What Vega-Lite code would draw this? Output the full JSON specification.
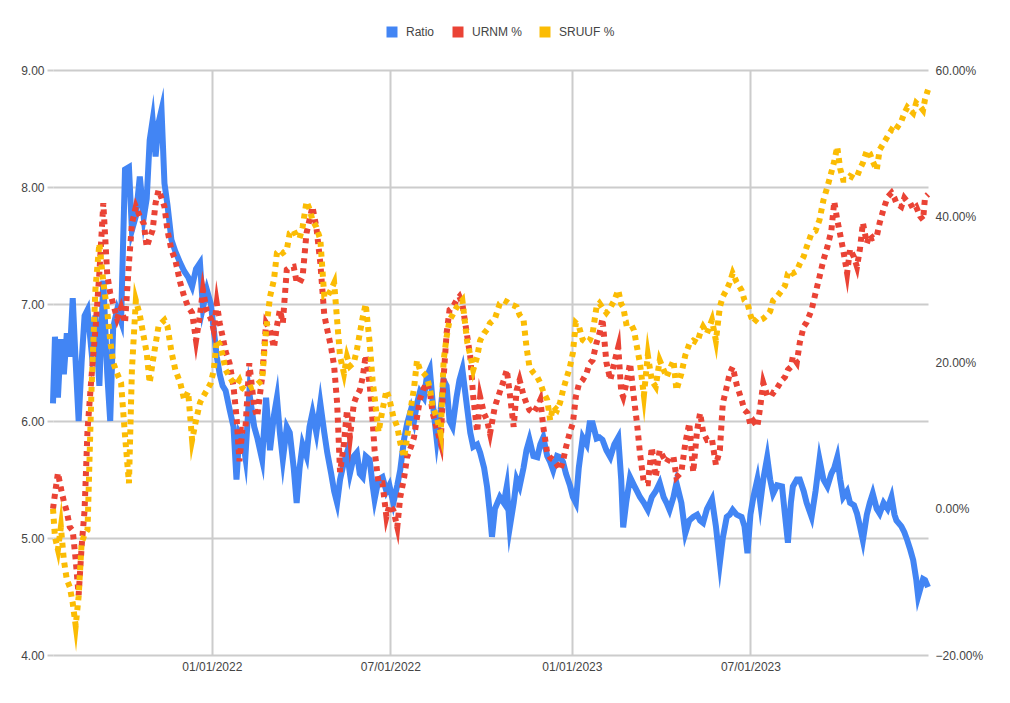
{
  "$schema": "https://vega.github.io/schema/vega-lite/v6.json",
  "width": 875,
  "height": 585,
  "autosize": {"type": "none"},
  "padding": {"left": 53, "top": 70, "right": 82, "bottom": 48},
  "background": "#ffffff",
  "config": {
    "font": "Liberation Sans",
    "view": {"stroke": null},
    "axis": {"labelFont": "Liberation Sans", "labelFontSize": 12, "labelColor": "#444444", "domain": false, "title": null},
    "legend": {"labelFont": "Liberation Sans", "labelFontSize": 12, "labelColor": "#444444"}
  },
  "datasets": {
    "ratio": [
      {"d":"2021-07-24","v":6.15},{"d":"2021-07-26","v":6.72},{"d":"2021-07-29","v":6.2},{"d":"2021-08-01","v":6.7},{"d":"2021-08-04","v":6.4},{"d":"2021-08-07","v":6.75},{"d":"2021-08-10","v":6.55},{"d":"2021-08-13","v":7.05},{"d":"2021-08-16","v":6.5},{"d":"2021-08-19","v":6.0},{"d":"2021-08-22","v":6.5},{"d":"2021-08-25","v":6.9},{"d":"2021-08-28","v":6.95},{"d":"2021-09-01","v":6.6},{"d":"2021-09-05","v":6.9},{"d":"2021-09-09","v":6.3},{"d":"2021-09-13","v":7.2},{"d":"2021-09-17","v":6.4},{"d":"2021-09-20","v":6.0},{"d":"2021-09-23","v":6.8},{"d":"2021-09-27","v":6.95},{"d":"2021-10-01","v":6.85},{"d":"2021-10-05","v":8.15},{"d":"2021-10-09","v":8.17},{"d":"2021-10-12","v":7.63},{"d":"2021-10-16","v":7.75},{"d":"2021-10-20","v":8.09},{"d":"2021-10-24","v":7.74},{"d":"2021-10-27","v":7.9},{"d":"2021-10-30","v":8.4},{"d":"2021-11-02","v":8.57},{"d":"2021-11-05","v":8.26},{"d":"2021-11-08","v":8.55},{"d":"2021-11-11","v":8.66},{"d":"2021-11-14","v":8.03},{"d":"2021-11-17","v":7.85},{"d":"2021-11-21","v":7.55},{"d":"2021-11-25","v":7.45},{"d":"2021-11-30","v":7.35},{"d":"2021-12-04","v":7.28},{"d":"2021-12-08","v":7.23},{"d":"2021-12-12","v":7.15},{"d":"2021-12-16","v":7.3},{"d":"2021-12-20","v":7.35},{"d":"2021-12-23","v":6.97},{"d":"2021-12-27","v":7.12},{"d":"2021-12-31","v":7.0},
      {"d":"2022-01-03","v":6.78},{"d":"2022-01-06","v":6.55},{"d":"2022-01-09","v":6.4},{"d":"2022-01-12","v":6.3},{"d":"2022-01-15","v":6.26},{"d":"2022-01-19","v":6.1},{"d":"2022-01-23","v":5.95},{"d":"2022-01-26","v":5.5},{"d":"2022-01-29","v":5.9},{"d":"2022-02-01","v":5.86},{"d":"2022-02-04","v":5.69},{"d":"2022-02-08","v":6.24},{"d":"2022-02-13","v":5.95},{"d":"2022-02-16","v":5.86},{"d":"2022-02-21","v":5.67},{"d":"2022-02-25","v":6.2},{"d":"2022-03-01","v":5.75},{"d":"2022-03-05","v":6.05},{"d":"2022-03-08","v":6.2},{"d":"2022-03-11","v":5.9},{"d":"2022-03-14","v":5.67},{"d":"2022-03-18","v":5.95},{"d":"2022-03-21","v":5.9},{"d":"2022-03-25","v":5.6},{"d":"2022-03-28","v":5.3},{"d":"2022-03-31","v":5.6},{"d":"2022-04-03","v":5.8},{"d":"2022-04-07","v":5.7},{"d":"2022-04-10","v":5.95},{"d":"2022-04-13","v":6.07},{"d":"2022-04-17","v":5.9},{"d":"2022-04-21","v":6.15},{"d":"2022-04-25","v":5.9},{"d":"2022-04-28","v":5.73},{"d":"2022-05-02","v":5.55},{"d":"2022-05-05","v":5.4},{"d":"2022-05-08","v":5.3},{"d":"2022-05-11","v":5.5},{"d":"2022-05-15","v":5.65},{"d":"2022-05-18","v":5.73},{"d":"2022-05-21","v":5.55},{"d":"2022-05-25","v":5.7},{"d":"2022-05-28","v":5.73},{"d":"2022-05-31","v":5.55},{"d":"2022-06-03","v":5.52},{"d":"2022-06-06","v":5.7},{"d":"2022-06-10","v":5.67},{"d":"2022-06-13","v":5.45},{"d":"2022-06-15","v":5.33},{"d":"2022-06-19","v":5.5},{"d":"2022-06-23","v":5.52},{"d":"2022-06-27","v":5.4},{"d":"2022-06-30","v":5.45},{"d":"2022-07-04","v":5.3},{"d":"2022-07-08","v":5.45},{"d":"2022-07-11","v":5.58},{"d":"2022-07-15","v":5.85},{"d":"2022-07-18","v":5.98},{"d":"2022-07-22","v":6.1},{"d":"2022-07-25","v":6.0},{"d":"2022-07-28","v":6.15},{"d":"2022-07-31","v":6.25},{"d":"2022-08-04","v":6.2},{"d":"2022-08-07","v":6.38},{"d":"2022-08-10","v":6.44},{"d":"2022-08-13","v":6.15},{"d":"2022-08-17","v":5.84},{"d":"2022-08-21","v":6.1},{"d":"2022-08-24","v":6.35},{"d":"2022-08-27","v":6.3},{"d":"2022-08-30","v":6.0},{"d":"2022-09-02","v":5.95},{"d":"2022-09-06","v":6.2},{"d":"2022-09-09","v":6.35},{"d":"2022-09-12","v":6.44},{"d":"2022-09-17","v":6.1},{"d":"2022-09-20","v":5.9},{"d":"2022-09-23","v":5.78},{"d":"2022-09-27","v":5.8},{"d":"2022-09-30","v":5.73},{"d":"2022-10-04","v":5.6},{"d":"2022-10-07","v":5.44},{"d":"2022-10-10","v":5.2},{"d":"2022-10-12","v":5.01},{"d":"2022-10-15","v":5.25},{"d":"2022-10-20","v":5.35},{"d":"2022-10-24","v":5.3},{"d":"2022-10-27","v":5.44},{"d":"2022-10-30","v":5.09},{"d":"2022-11-03","v":5.3},{"d":"2022-11-06","v":5.5},{"d":"2022-11-09","v":5.44},{"d":"2022-11-13","v":5.6},{"d":"2022-11-16","v":5.75},{"d":"2022-11-19","v":5.84},{"d":"2022-11-23","v":5.7},{"d":"2022-11-27","v":5.69},{"d":"2022-11-30","v":5.8},{"d":"2022-12-03","v":5.86},{"d":"2022-12-07","v":5.7},{"d":"2022-12-10","v":5.65},{"d":"2022-12-13","v":5.58},{"d":"2022-12-17","v":5.7},{"d":"2022-12-20","v":5.69},{"d":"2022-12-23","v":5.65},{"d":"2022-12-26","v":5.55},{"d":"2022-12-30","v":5.45},
      {"d":"2023-01-02","v":5.35},{"d":"2023-01-05","v":5.3},{"d":"2023-01-08","v":5.6},{"d":"2023-01-12","v":5.86},{"d":"2023-01-16","v":5.8},{"d":"2023-01-19","v":5.98},{"d":"2023-01-22","v":5.98},{"d":"2023-01-26","v":5.85},{"d":"2023-01-29","v":5.86},{"d":"2023-02-01","v":5.84},{"d":"2023-02-05","v":5.75},{"d":"2023-02-09","v":5.69},{"d":"2023-02-13","v":5.8},{"d":"2023-02-17","v":5.86},{"d":"2023-02-20","v":5.5},{"d":"2023-02-22","v":5.09},{"d":"2023-02-25","v":5.3},{"d":"2023-03-01","v":5.52},{"d":"2023-03-05","v":5.45},{"d":"2023-03-08","v":5.4},{"d":"2023-03-11","v":5.35},{"d":"2023-03-15","v":5.3},{"d":"2023-03-19","v":5.24},{"d":"2023-03-23","v":5.35},{"d":"2023-03-27","v":5.4},{"d":"2023-03-31","v":5.47},{"d":"2023-04-04","v":5.35},{"d":"2023-04-07","v":5.3},{"d":"2023-04-10","v":5.24},{"d":"2023-04-14","v":5.35},{"d":"2023-04-17","v":5.47},{"d":"2023-04-22","v":5.3},{"d":"2023-04-26","v":5.04},{"d":"2023-04-30","v":5.15},{"d":"2023-05-04","v":5.18},{"d":"2023-05-08","v":5.2},{"d":"2023-05-11","v":5.15},{"d":"2023-05-14","v":5.13},{"d":"2023-05-18","v":5.25},{"d":"2023-05-23","v":5.33},{"d":"2023-05-27","v":5.1},{"d":"2023-05-31","v":4.79},{"d":"2023-06-03","v":5.0},{"d":"2023-06-07","v":5.18},{"d":"2023-06-10","v":5.2},{"d":"2023-06-13","v":5.24},{"d":"2023-06-17","v":5.2},{"d":"2023-06-22","v":5.18},{"d":"2023-06-25","v":5.1},{"d":"2023-06-28","v":4.87},{"d":"2023-07-01","v":5.2},{"d":"2023-07-04","v":5.35},{"d":"2023-07-08","v":5.5},{"d":"2023-07-11","v":5.3},{"d":"2023-07-14","v":5.5},{"d":"2023-07-18","v":5.69},{"d":"2023-07-21","v":5.5},{"d":"2023-07-24","v":5.38},{"d":"2023-07-28","v":5.45},{"d":"2023-08-02","v":5.44},{"d":"2023-08-05","v":5.2},{"d":"2023-08-08","v":4.96},{"d":"2023-08-11","v":5.3},{"d":"2023-08-13","v":5.44},{"d":"2023-08-17","v":5.5},{"d":"2023-08-20","v":5.5},{"d":"2023-08-24","v":5.4},{"d":"2023-08-27","v":5.3},{"d":"2023-09-01","v":5.18},{"d":"2023-09-05","v":5.4},{"d":"2023-09-09","v":5.67},{"d":"2023-09-13","v":5.5},{"d":"2023-09-17","v":5.44},{"d":"2023-09-21","v":5.55},{"d":"2023-09-24","v":5.6},{"d":"2023-09-27","v":5.69},{"d":"2023-09-30","v":5.5},{"d":"2023-10-03","v":5.35},{"d":"2023-10-07","v":5.4},{"d":"2023-10-10","v":5.3},{"d":"2023-10-14","v":5.28},{"d":"2023-10-17","v":5.21},{"d":"2023-10-20","v":5.1},{"d":"2023-10-23","v":4.98},{"d":"2023-10-27","v":5.2},{"d":"2023-10-30","v":5.3},{"d":"2023-11-02","v":5.38},{"d":"2023-11-06","v":5.25},{"d":"2023-11-09","v":5.21},{"d":"2023-11-13","v":5.3},{"d":"2023-11-17","v":5.25},{"d":"2023-11-21","v":5.35},{"d":"2023-11-24","v":5.2},{"d":"2023-11-26","v":5.15},{"d":"2023-12-01","v":5.1},{"d":"2023-12-04","v":5.05},{"d":"2023-12-07","v":4.98},{"d":"2023-12-10","v":4.9},{"d":"2023-12-13","v":4.81},{"d":"2023-12-16","v":4.65},{"d":"2023-12-18","v":4.5},{"d":"2023-12-20","v":4.56},{"d":"2023-12-23","v":4.65},{"d":"2023-12-25","v":4.64},{"d":"2023-12-28","v":4.58}
    ],
    "urnm": [
      {"d":"2021-07-24","v":0.0},{"d":"2021-07-26","v":2.0},{"d":"2021-07-29","v":4.9},{"d":"2021-08-01","v":2.8},{"d":"2021-08-04","v":1.0},{"d":"2021-08-07","v":-0.4},{"d":"2021-08-10","v":-2.5},{"d":"2021-08-13","v":-3.0},{"d":"2021-08-16","v":-7.0},{"d":"2021-08-19","v":-11.8},{"d":"2021-08-22","v":-5.2},{"d":"2021-08-25","v":-0.2},{"d":"2021-08-28","v":10.8},{"d":"2021-09-01","v":18.0},{"d":"2021-09-05","v":24.5},{"d":"2021-09-09","v":32.2},{"d":"2021-09-13","v":41.8},{"d":"2021-09-17","v":32.0},{"d":"2021-09-20","v":29.5},{"d":"2021-09-23","v":28.0},{"d":"2021-09-27","v":26.0},{"d":"2021-10-01","v":27.5},{"d":"2021-10-05","v":25.4},{"d":"2021-10-09","v":33.6},{"d":"2021-10-12","v":39.0},{"d":"2021-10-16","v":41.3},{"d":"2021-10-20","v":40.0},{"d":"2021-10-24","v":39.0},{"d":"2021-10-27","v":35.8},{"d":"2021-10-30","v":37.0},{"d":"2021-11-02","v":38.1},{"d":"2021-11-05","v":41.8},{"d":"2021-11-08","v":43.6},{"d":"2021-11-11","v":42.5},{"d":"2021-11-14","v":41.3},{"d":"2021-11-17","v":38.1},{"d":"2021-11-21","v":35.4},{"d":"2021-11-25","v":34.0},{"d":"2021-11-30","v":30.9},{"d":"2021-12-04","v":29.0},{"d":"2021-12-08","v":27.6},{"d":"2021-12-12","v":26.8},{"d":"2021-12-16","v":23.0},{"d":"2021-12-20","v":26.5},{"d":"2021-12-23","v":29.9},{"d":"2021-12-27","v":27.0},{"d":"2021-12-31","v":26.0},
      {"d":"2022-01-03","v":24.4},{"d":"2022-01-06","v":28.1},{"d":"2022-01-09","v":25.4},{"d":"2022-01-12","v":23.5},{"d":"2022-01-15","v":21.5},{"d":"2022-01-19","v":19.9},{"d":"2022-01-23","v":16.7},{"d":"2022-01-26","v":12.6},{"d":"2022-01-29","v":6.5},{"d":"2022-02-01","v":10.8},{"d":"2022-02-04","v":10.8},{"d":"2022-02-08","v":19.9},{"d":"2022-02-13","v":13.9},{"d":"2022-02-16","v":12.6},{"d":"2022-02-21","v":18.0},{"d":"2022-02-25","v":25.4},{"d":"2022-03-01","v":24.5},{"d":"2022-03-05","v":22.0},{"d":"2022-03-08","v":25.0},{"d":"2022-03-11","v":27.2},{"d":"2022-03-14","v":25.4},{"d":"2022-03-18","v":32.7},{"d":"2022-03-21","v":33.0},{"d":"2022-03-25","v":33.1},{"d":"2022-03-28","v":31.0},{"d":"2022-03-31","v":30.9},{"d":"2022-04-03","v":31.7},{"d":"2022-04-07","v":37.7},{"d":"2022-04-10","v":39.5},{"d":"2022-04-13","v":41.3},{"d":"2022-04-17","v":38.5},{"d":"2022-04-21","v":33.6},{"d":"2022-04-25","v":26.5},{"d":"2022-04-28","v":24.5},{"d":"2022-05-02","v":22.0},{"d":"2022-05-05","v":19.5},{"d":"2022-05-08","v":14.5},{"d":"2022-05-11","v":5.0},{"d":"2022-05-15","v":9.0},{"d":"2022-05-18","v":13.5},{"d":"2022-05-21","v":9.8},{"d":"2022-05-25","v":14.4},{"d":"2022-05-28","v":15.5},{"d":"2022-05-31","v":16.2},{"d":"2022-06-03","v":18.0},{"d":"2022-06-06","v":21.0},{"d":"2022-06-10","v":17.0},{"d":"2022-06-13","v":12.0},{"d":"2022-06-15","v":8.0},{"d":"2022-06-19","v":3.5},{"d":"2022-06-23","v":3.5},{"d":"2022-06-27","v":-1.1},{"d":"2022-06-30","v":0.5},{"d":"2022-07-04","v":-0.2},{"d":"2022-07-08","v":-2.5},{"d":"2022-07-11","v":1.6},{"d":"2022-07-15","v":4.3},{"d":"2022-07-18","v":7.1},{"d":"2022-07-22","v":8.5},{"d":"2022-07-25","v":9.8},{"d":"2022-07-28","v":12.5},{"d":"2022-07-31","v":15.0},{"d":"2022-08-04","v":16.5},{"d":"2022-08-07","v":17.2},{"d":"2022-08-10","v":16.0},{"d":"2022-08-13","v":13.0},{"d":"2022-08-17","v":11.0},{"d":"2022-08-21","v":9.0},{"d":"2022-08-24","v":18.0},{"d":"2022-08-27","v":24.0},{"d":"2022-08-30","v":27.2},{"d":"2022-09-02","v":27.5},{"d":"2022-09-06","v":28.5},{"d":"2022-09-09","v":29.0},{"d":"2022-09-12","v":28.0},{"d":"2022-09-17","v":23.5},{"d":"2022-09-20","v":20.8},{"d":"2022-09-23","v":15.3},{"d":"2022-09-27","v":10.5},{"d":"2022-09-30","v":15.3},{"d":"2022-10-04","v":13.0},{"d":"2022-10-07","v":12.1},{"d":"2022-10-10","v":10.3},{"d":"2022-10-15","v":14.0},{"d":"2022-10-20","v":16.0},{"d":"2022-10-24","v":17.6},{"d":"2022-10-27","v":19.0},{"d":"2022-10-30","v":15.8},{"d":"2022-11-03","v":11.2},{"d":"2022-11-06","v":16.2},{"d":"2022-11-09","v":17.6},{"d":"2022-11-13","v":15.5},{"d":"2022-11-16","v":14.4},{"d":"2022-11-19","v":13.5},{"d":"2022-11-23","v":13.1},{"d":"2022-11-27","v":14.0},{"d":"2022-11-30","v":14.9},{"d":"2022-12-03","v":11.2},{"d":"2022-12-07","v":7.6},{"d":"2022-12-10","v":7.0},{"d":"2022-12-13","v":6.7},{"d":"2022-12-17","v":6.0},{"d":"2022-12-20","v":5.3},{"d":"2022-12-23","v":6.5},{"d":"2022-12-26","v":8.4},{"d":"2022-12-30","v":10.5},
      {"d":"2023-01-02","v":11.7},{"d":"2023-01-05","v":15.3},{"d":"2023-01-08","v":17.0},{"d":"2023-01-12","v":17.6},{"d":"2023-01-16","v":18.6},{"d":"2023-01-19","v":19.9},{"d":"2023-01-22","v":20.3},{"d":"2023-01-26","v":22.7},{"d":"2023-01-29","v":24.0},{"d":"2023-02-01","v":26.0},{"d":"2023-02-05","v":20.0},{"d":"2023-02-09","v":17.6},{"d":"2023-02-13","v":20.0},{"d":"2023-02-17","v":22.1},{"d":"2023-02-20","v":16.0},{"d":"2023-02-22","v":15.3},{"d":"2023-02-25","v":17.0},{"d":"2023-03-01","v":19.9},{"d":"2023-03-05","v":15.0},{"d":"2023-03-08","v":11.7},{"d":"2023-03-11","v":7.6},{"d":"2023-03-15","v":3.5},{"d":"2023-03-19","v":3.5},{"d":"2023-03-23","v":8.4},{"d":"2023-03-27","v":4.3},{"d":"2023-03-31","v":8.0},{"d":"2023-04-04","v":7.0},{"d":"2023-04-07","v":6.3},{"d":"2023-04-10","v":7.0},{"d":"2023-04-14","v":7.1},{"d":"2023-04-17","v":4.3},{"d":"2023-04-22","v":5.0},{"d":"2023-04-26","v":9.0},{"d":"2023-04-30","v":11.7},{"d":"2023-05-04","v":5.0},{"d":"2023-05-08","v":10.8},{"d":"2023-05-11","v":13.1},{"d":"2023-05-14","v":10.5},{"d":"2023-05-18","v":9.4},{"d":"2023-05-23","v":9.5},{"d":"2023-05-27","v":6.0},{"d":"2023-05-31","v":8.0},{"d":"2023-06-03","v":14.4},{"d":"2023-06-07","v":16.7},{"d":"2023-06-10","v":18.5},{"d":"2023-06-13","v":19.4},{"d":"2023-06-17","v":17.0},{"d":"2023-06-22","v":14.9},{"d":"2023-06-25","v":13.5},{"d":"2023-06-28","v":13.1},{"d":"2023-07-01","v":11.5},{"d":"2023-07-04","v":12.0},{"d":"2023-07-08","v":11.2},{"d":"2023-07-11","v":14.0},{"d":"2023-07-14","v":17.2},{"d":"2023-07-18","v":15.5},{"d":"2023-07-21","v":16.0},{"d":"2023-07-24","v":15.8},{"d":"2023-07-28","v":16.5},{"d":"2023-08-02","v":17.6},{"d":"2023-08-05","v":18.0},{"d":"2023-08-08","v":19.0},{"d":"2023-08-11","v":19.4},{"d":"2023-08-13","v":20.8},{"d":"2023-08-17","v":20.0},{"d":"2023-08-20","v":22.7},{"d":"2023-08-24","v":24.9},{"d":"2023-08-27","v":25.5},{"d":"2023-09-01","v":27.2},{"d":"2023-09-05","v":29.5},{"d":"2023-09-09","v":31.7},{"d":"2023-09-13","v":34.0},{"d":"2023-09-17","v":35.8},{"d":"2023-09-21","v":38.0},{"d":"2023-09-24","v":42.0},{"d":"2023-09-27","v":39.5},{"d":"2023-09-30","v":37.5},{"d":"2023-10-03","v":35.4},{"d":"2023-10-07","v":32.2},{"d":"2023-10-10","v":35.5},{"d":"2023-10-14","v":34.4},{"d":"2023-10-17","v":33.1},{"d":"2023-10-20","v":35.5},{"d":"2023-10-23","v":39.1},{"d":"2023-10-27","v":36.3},{"d":"2023-10-30","v":37.5},{"d":"2023-11-02","v":37.0},{"d":"2023-11-06","v":37.2},{"d":"2023-11-09","v":39.1},{"d":"2023-11-13","v":41.0},{"d":"2023-11-17","v":42.6},{"d":"2023-11-21","v":43.2},{"d":"2023-11-24","v":42.5},{"d":"2023-11-26","v":41.8},{"d":"2023-12-01","v":41.3},{"d":"2023-12-04","v":42.5},{"d":"2023-12-07","v":42.0},{"d":"2023-12-10","v":41.8},{"d":"2023-12-13","v":41.0},{"d":"2023-12-16","v":41.3},{"d":"2023-12-20","v":40.0},{"d":"2023-12-23","v":39.5},{"d":"2023-12-25","v":42.6},{"d":"2023-12-28","v":43.0}
    ],
    "sruuf": [
      {"d":"2021-07-24","v":0.0},{"d":"2021-07-26","v":-3.9},{"d":"2021-07-29","v":-5.6},{"d":"2021-08-01","v":-2.5},{"d":"2021-08-04","v":-7.0},{"d":"2021-08-07","v":-9.7},{"d":"2021-08-10","v":-10.7},{"d":"2021-08-13","v":-12.9},{"d":"2021-08-16","v":-16.0},{"d":"2021-08-19","v":-12.0},{"d":"2021-08-22","v":-4.7},{"d":"2021-08-25","v":-3.5},{"d":"2021-08-28","v":-2.9},{"d":"2021-09-01","v":16.2},{"d":"2021-09-05","v":30.0},{"d":"2021-09-09","v":36.3},{"d":"2021-09-13","v":31.0},{"d":"2021-09-17","v":27.0},{"d":"2021-09-20","v":23.0},{"d":"2021-09-23","v":20.0},{"d":"2021-09-27","v":18.5},{"d":"2021-10-01","v":17.2},{"d":"2021-10-05","v":10.0},{"d":"2021-10-09","v":3.5},{"d":"2021-10-12","v":19.0},{"d":"2021-10-16","v":28.5},{"d":"2021-10-20","v":26.5},{"d":"2021-10-24","v":23.5},{"d":"2021-10-27","v":21.3},{"d":"2021-10-30","v":17.2},{"d":"2021-11-02","v":20.0},{"d":"2021-11-05","v":22.5},{"d":"2021-11-08","v":25.0},{"d":"2021-11-11","v":25.4},{"d":"2021-11-14","v":25.8},{"d":"2021-11-17","v":25.0},{"d":"2021-11-21","v":21.5},{"d":"2021-11-25","v":19.0},{"d":"2021-11-30","v":17.2},{"d":"2021-12-04","v":14.9},{"d":"2021-12-08","v":16.0},{"d":"2021-12-12","v":9.4},{"d":"2021-12-16","v":12.1},{"d":"2021-12-20","v":14.5},{"d":"2021-12-23","v":15.3},{"d":"2021-12-27","v":16.2},{"d":"2021-12-31","v":17.2},
      {"d":"2022-01-03","v":19.0},{"d":"2022-01-06","v":23.1},{"d":"2022-01-09","v":22.5},{"d":"2022-01-12","v":21.0},{"d":"2022-01-15","v":19.0},{"d":"2022-01-19","v":18.0},{"d":"2022-01-23","v":17.2},{"d":"2022-01-26","v":17.0},{"d":"2022-01-29","v":17.6},{"d":"2022-02-01","v":16.5},{"d":"2022-02-04","v":16.2},{"d":"2022-02-08","v":16.5},{"d":"2022-02-13","v":16.7},{"d":"2022-02-16","v":17.0},{"d":"2022-02-21","v":17.6},{"d":"2022-02-25","v":24.4},{"d":"2022-03-01","v":29.0},{"d":"2022-03-05","v":31.3},{"d":"2022-03-08","v":35.0},{"d":"2022-03-11","v":35.4},{"d":"2022-03-14","v":35.0},{"d":"2022-03-18","v":35.4},{"d":"2022-03-21","v":37.7},{"d":"2022-03-25","v":38.1},{"d":"2022-03-28","v":37.2},{"d":"2022-03-31","v":37.0},{"d":"2022-04-03","v":38.5},{"d":"2022-04-07","v":42.0},{"d":"2022-04-10","v":41.0},{"d":"2022-04-13","v":39.5},{"d":"2022-04-17","v":38.5},{"d":"2022-04-21","v":36.8},{"d":"2022-04-25","v":29.0},{"d":"2022-04-28","v":29.0},{"d":"2022-05-02","v":30.0},{"d":"2022-05-05","v":30.9},{"d":"2022-05-08","v":25.8},{"d":"2022-05-11","v":20.8},{"d":"2022-05-15","v":18.5},{"d":"2022-05-18","v":20.8},{"d":"2022-05-21","v":19.5},{"d":"2022-05-25","v":20.0},{"d":"2022-05-28","v":21.7},{"d":"2022-05-31","v":24.0},{"d":"2022-06-03","v":26.2},{"d":"2022-06-06","v":28.0},{"d":"2022-06-10","v":22.7},{"d":"2022-06-13","v":17.5},{"d":"2022-06-15","v":15.3},{"d":"2022-06-19","v":10.5},{"d":"2022-06-23","v":13.5},{"d":"2022-06-27","v":16.2},{"d":"2022-06-30","v":15.0},{"d":"2022-07-04","v":12.6},{"d":"2022-07-08","v":11.2},{"d":"2022-07-11","v":9.0},{"d":"2022-07-15","v":7.0},{"d":"2022-07-18","v":9.8},{"d":"2022-07-22","v":14.0},{"d":"2022-07-25","v":16.5},{"d":"2022-07-28","v":20.3},{"d":"2022-07-31","v":19.0},{"d":"2022-08-04","v":18.5},{"d":"2022-08-07","v":18.0},{"d":"2022-08-10","v":16.5},{"d":"2022-08-13","v":13.9},{"d":"2022-08-17","v":12.5},{"d":"2022-08-21","v":10.3},{"d":"2022-08-24","v":20.3},{"d":"2022-08-27","v":23.5},{"d":"2022-08-30","v":25.8},{"d":"2022-09-02","v":26.5},{"d":"2022-09-06","v":27.5},{"d":"2022-09-09","v":28.0},{"d":"2022-09-12","v":28.5},{"d":"2022-09-17","v":22.7},{"d":"2022-09-20","v":21.0},{"d":"2022-09-23","v":19.0},{"d":"2022-09-27","v":20.8},{"d":"2022-09-30","v":23.0},{"d":"2022-10-04","v":24.0},{"d":"2022-10-07","v":24.5},{"d":"2022-10-10","v":25.4},{"d":"2022-10-15","v":26.0},{"d":"2022-10-20","v":28.1},{"d":"2022-10-24","v":28.5},{"d":"2022-10-27","v":28.3},{"d":"2022-10-30","v":28.0},{"d":"2022-11-03","v":27.8},{"d":"2022-11-06","v":27.6},{"d":"2022-11-09","v":26.5},{"d":"2022-11-13","v":25.8},{"d":"2022-11-16","v":22.1},{"d":"2022-11-19","v":19.4},{"d":"2022-11-23","v":18.6},{"d":"2022-11-27","v":18.0},{"d":"2022-11-30","v":17.2},{"d":"2022-12-03","v":16.0},{"d":"2022-12-07","v":14.9},{"d":"2022-12-10","v":12.1},{"d":"2022-12-13","v":14.0},{"d":"2022-12-17","v":13.5},{"d":"2022-12-20","v":14.5},{"d":"2022-12-23","v":16.2},{"d":"2022-12-26","v":17.6},{"d":"2022-12-30","v":19.4},
      {"d":"2023-01-02","v":21.3},{"d":"2023-01-05","v":25.4},{"d":"2023-01-08","v":25.0},{"d":"2023-01-12","v":23.1},{"d":"2023-01-16","v":22.7},{"d":"2023-01-19","v":23.0},{"d":"2023-01-22","v":24.0},{"d":"2023-01-26","v":27.6},{"d":"2023-01-29","v":28.1},{"d":"2023-02-01","v":27.5},{"d":"2023-02-05","v":26.8},{"d":"2023-02-09","v":27.5},{"d":"2023-02-13","v":28.5},{"d":"2023-02-17","v":29.9},{"d":"2023-02-20","v":28.0},{"d":"2023-02-22","v":27.6},{"d":"2023-02-25","v":25.4},{"d":"2023-03-01","v":25.5},{"d":"2023-03-05","v":24.4},{"d":"2023-03-08","v":22.1},{"d":"2023-03-11","v":19.9},{"d":"2023-03-15","v":15.5},{"d":"2023-03-19","v":21.0},{"d":"2023-03-23","v":17.5},{"d":"2023-03-27","v":16.7},{"d":"2023-03-31","v":20.3},{"d":"2023-04-04","v":19.0},{"d":"2023-04-07","v":18.0},{"d":"2023-04-10","v":19.0},{"d":"2023-04-14","v":20.3},{"d":"2023-04-17","v":16.2},{"d":"2023-04-22","v":18.5},{"d":"2023-04-26","v":21.0},{"d":"2023-04-30","v":22.5},{"d":"2023-05-04","v":23.0},{"d":"2023-05-08","v":22.7},{"d":"2023-05-11","v":24.0},{"d":"2023-05-14","v":24.9},{"d":"2023-05-18","v":24.0},{"d":"2023-05-23","v":25.8},{"d":"2023-05-27","v":23.0},{"d":"2023-05-31","v":27.6},{"d":"2023-06-03","v":29.0},{"d":"2023-06-07","v":30.0},{"d":"2023-06-10","v":30.9},{"d":"2023-06-13","v":32.2},{"d":"2023-06-17","v":31.0},{"d":"2023-06-22","v":29.9},{"d":"2023-06-25","v":28.5},{"d":"2023-06-28","v":28.1},{"d":"2023-07-01","v":26.5},{"d":"2023-07-04","v":25.4},{"d":"2023-07-08","v":26.0},{"d":"2023-07-11","v":25.8},{"d":"2023-07-14","v":26.0},{"d":"2023-07-18","v":26.5},{"d":"2023-07-21","v":27.0},{"d":"2023-07-24","v":28.5},{"d":"2023-07-28","v":29.0},{"d":"2023-08-02","v":29.9},{"d":"2023-08-05","v":30.5},{"d":"2023-08-08","v":32.2},{"d":"2023-08-11","v":32.5},{"d":"2023-08-13","v":32.2},{"d":"2023-08-17","v":32.5},{"d":"2023-08-20","v":33.5},{"d":"2023-08-24","v":34.5},{"d":"2023-08-27","v":35.8},{"d":"2023-09-01","v":37.7},{"d":"2023-09-05","v":38.0},{"d":"2023-09-09","v":39.5},{"d":"2023-09-13","v":42.2},{"d":"2023-09-17","v":44.0},{"d":"2023-09-21","v":46.0},{"d":"2023-09-24","v":47.5},{"d":"2023-09-27","v":49.5},{"d":"2023-09-30","v":46.5},{"d":"2023-10-03","v":45.0},{"d":"2023-10-07","v":45.0},{"d":"2023-10-10","v":45.5},{"d":"2023-10-14","v":45.2},{"d":"2023-10-17","v":45.4},{"d":"2023-10-20","v":46.5},{"d":"2023-10-23","v":47.3},{"d":"2023-10-27","v":49.0},{"d":"2023-10-30","v":48.6},{"d":"2023-11-02","v":47.5},{"d":"2023-11-06","v":46.3},{"d":"2023-11-09","v":49.1},{"d":"2023-11-13","v":50.0},{"d":"2023-11-17","v":50.9},{"d":"2023-11-21","v":51.8},{"d":"2023-11-24","v":51.5},{"d":"2023-11-26","v":52.0},{"d":"2023-12-01","v":53.0},{"d":"2023-12-04","v":54.1},{"d":"2023-12-07","v":54.9},{"d":"2023-12-10","v":54.5},{"d":"2023-12-13","v":54.1},{"d":"2023-12-16","v":55.5},{"d":"2023-12-20","v":55.0},{"d":"2023-12-23","v":54.5},{"d":"2023-12-25","v":56.0},{"d":"2023-12-28","v":57.3}
    ]
  },
  "layer": [
    {
      "data": {"name": "ratio"},
      "mark": {"type": "line", "strokeWidth": 6, "strokeJoin": "miter", "strokeMiterLimit": 10},
      "encoding": {
        "x": {
          "field": "d", "type": "temporal",
          "scale": {"nice": false},
          "axis": {
            "values": [{"year": 2022, "month": 1, "date": 1}, {"year": 2022, "month": 7, "date": 1}, {"year": 2023, "month": 1, "date": 1}, {"year": 2023, "month": 7, "date": 1}],
            "format": "%m/%d/%Y", "ticks": false, "labelPadding": 6,
            "grid": true, "gridColor": "#cccccc", "gridWidth": 2
          }
        },
        "y": {
          "field": "v", "type": "quantitative",
          "scale": {"domain": [4, 9], "nice": false, "zero": false},
          "axis": {
            "orient": "left", "values": [4, 5, 6, 7, 8, 9], "format": ".2f",
            "grid": true, "gridColor": "#cccccc", "gridWidth": 2,
            "ticks": true, "tickSize": 6, "tickColor": "#cccccc", "tickWidth": 2,
            "labelPadding": 3
          }
        },
        "color": {
          "datum": "Ratio", "type": "nominal",
          "scale": {"domain": ["Ratio", "URNM %", "SRUUF %"], "range": ["#4285F4", "#EA4335", "#FBBC04"]},
          "legend": {
            "orient": "none", "legendX": 333, "legendY": -44, "direction": "horizontal", "title": null,
            "symbolType": "square", "symbolSize": 121, "columnPadding": 17, "labelOffset": 8,
            "symbolStrokeWidth": 0,
            "encode": {"symbols": {"update": {"fill": {"scale": "color", "field": "value"}, "strokeDash": {"value": []}, "strokeWidth": {"value": 0}}}}
          }
        }
      }
    },
    {
      "layer": [
        {
          "data": {"name": "urnm"},
          "mark": {"type": "line", "strokeWidth": 6, "strokeDash": [5, 5], "strokeCap": "butt", "strokeJoin": "miter", "strokeMiterLimit": 10},
          "encoding": {
            "x": {"field": "d", "type": "temporal"},
            "y": {
              "field": "v", "type": "quantitative",
              "scale": {"domain": [-20, 60], "nice": false, "zero": false},
              "axis": {
                "orient": "right", "values": [-20, 0, 20, 40, 60],
                "labelExpr": "format(datum.value, '.2f') + '%'",
                "grid": false, "ticks": false, "labelPadding": 7
              }
            },
            "color": {"datum": "URNM %", "type": "nominal"}
          }
        },
        {
          "data": {"name": "sruuf"},
          "mark": {"type": "line", "strokeWidth": 6, "strokeDash": [5, 5], "strokeCap": "butt", "strokeJoin": "miter", "strokeMiterLimit": 10},
          "encoding": {
            "x": {"field": "d", "type": "temporal"},
            "y": {"field": "v", "type": "quantitative"},
            "color": {"datum": "SRUUF %", "type": "nominal"}
          }
        }
      ]
    }
  ],
  "resolve": {"scale": {"y": "independent"}}
}
